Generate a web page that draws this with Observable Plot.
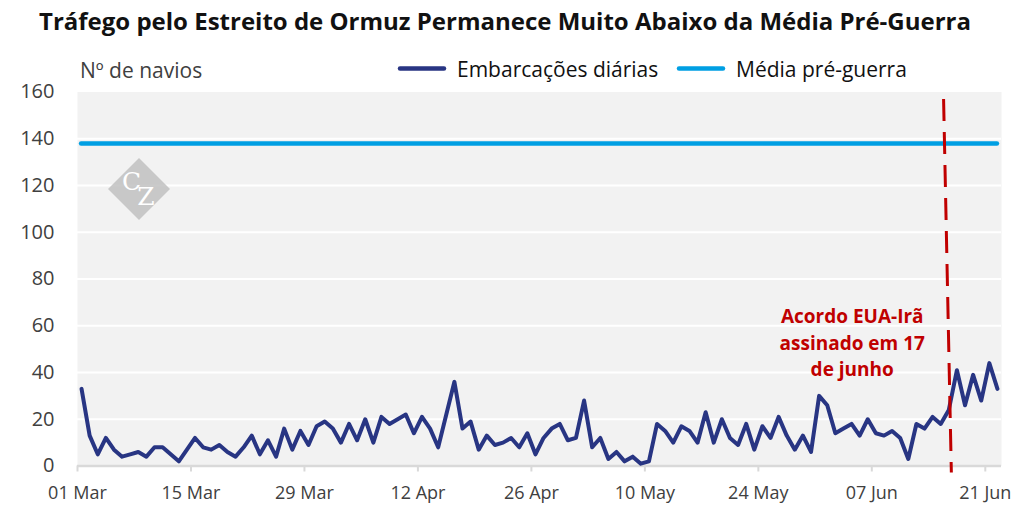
<!DOCTYPE html>
<html><head><meta charset="utf-8">
<script src="https://cdn.jsdelivr.net/npm/d3@7"></script>
<script src="https://cdn.jsdelivr.net/npm/@observablehq/plot@0.6"></script>
<style>
body{margin:0;background:#fff;font-family:"Open Sans",sans-serif;}
#wrap{position:relative;width:1036px;height:531px;overflow:hidden;background:#fff;}
#header{display:block;overflow:visible;}
#chart svg{display:block;}
#wm{position:absolute;left:0;top:0;pointer-events:none;}
</style></head><body>
<div id="wrap">
<svg id="header" width="1036" height="85"></svg>
<div id="chart"></div>
<svg id="wm" width="1036" height="531"></svg>
</div>
<script>
// ---- data ----
const startDate = "2026-03-01";
const dailyShips = [
  33,13,5,12,7,4,5,6,4,8,8,5,2,7,12,8,7,9,6,4,8,13,5,11,4,16,7,15,
  9,17,19,16,10,18,11,20,10,21,18,20,22,14,21,16,8,22,36,16,19,7,13,9,10,12,8,14,
  5,12,16,18,11,12,28,8,12,3,6,2,4,1,2,18,15,10,17,15,10,23,10,20,12,9,18,7,
  17,12,21,13,7,13,6,30,26,14,16,18,13,20,14,13,15,12,3,18,16,21,18,24,41,26,39,28,44,33
];
const preWarAverage = 138;
const seriesNames = ["Embarcações diárias", "Média pré-guerra"];
const seriesColors = ["#283583", "#009fe3"];
const xTickDates = ["2026-03-01","2026-03-15","2026-03-29","2026-04-12","2026-04-26","2026-05-10","2026-05-24","2026-06-07","2026-06-21"];
const xTickLabels = ["01 Mar","15 Mar","29 Mar","12 Apr","26 Apr","10 May","24 May","07 Jun","21 Jun"];
const xDomain = ["2026-03-01","2026-06-23"];
const yTicks = [0,20,40,60,80,100,120,140,160];
const yGrid = [20,40,60,80,100,120,140];
const agreementLineX = ["2026-06-15T20:30Z","2026-06-16T19:30Z"];
const agreementLineY = [157, -2.8];
const annotationText = "Acordo EUA-Irã\nassinado em 17\nde junho";
const annotationX = "2026-06-04T14:00Z";
const annotationY = 53.4;
const titleText = "Tráfego pelo Estreito de Ormuz Permanece Muito Abaixo da Média Pré-Guerra";
const yLabel = "Nº de navios";

// ---- build ----
const start = new Date(startDate + "T00:00Z");
const rows = dailyShips.map((v, i) => ({date: d3.utcHour.offset(d3.utcDay.offset(start, i), 12), value: v}));
const tickDates = xTickDates.map(d => new Date(d + "T00:00Z"));

const font = "'Open Sans', sans-serif";
const headerH = 85;

// header (title + y label + legend)
const H = d3.select("#header");
H.append("text").attr("x", 39).attr("y", 30).attr("font-family", font).attr("font-weight", 700)
  .attr("font-size", 24).attr("fill", "#111").text(titleText);
H.append("text").attr("x", 80).attr("y", 77.5).attr("font-family", font)
  .attr("font-size", 21).attr("fill", "#404040").text(yLabel);
const legendX = [400, 679];
seriesNames.forEach((name, i) => {
  H.append("line").attr("x1", legendX[i]).attr("x2", legendX[i] + 44).attr("y1", 68.5).attr("y2", 68.5)
    .attr("stroke", seriesColors[i]).attr("stroke-width", 4.5).attr("stroke-linecap", "round");
  H.append("text").attr("x", legendX[i] + 57).attr("y", 77).attr("font-family", font)
    .attr("font-size", 21).attr("fill", "#111").text(name);
});

const chart = Plot.plot({
  width: 1036,
  height: 531 - headerH,
  marginTop: 91.5 - headerH,
  marginBottom: 65.5,
  marginLeft: 77,
  marginRight: 35,
  style: {fontFamily: font, background: "transparent", overflow: "visible"},
  x: {type: "utc", domain: xDomain.map(d => new Date(d + "T00:00Z"))},
  y: {domain: [0, 160]},
  marks: [
    Plot.frame({fill: "#f2f2f2", stroke: null}),
    Plot.ruleY(yGrid, {stroke: "#ffffff", strokeWidth: 2.2}),
    Plot.ruleY([0], {stroke: "#d9d9d9", strokeWidth: 2.5}),
    Plot.axisX({ticks: tickDates, tickFormat: (d, i) => xTickLabels[i], tickSize: 6, tickPadding: 14,
      fontSize: 18, stroke: "#d9d9d9", strokeWidth: 2, fill: "#404040", label: null}),
    Plot.axisY({ticks: yTicks, tickSize: 0, tickPadding: 23, fontSize: 20, fill: "#404040", label: null}),
    Plot.ruleY([preWarAverage], {x1: rows[0].date, x2: rows[rows.length - 1].date,
      stroke: seriesColors[1], strokeWidth: 4.5, strokeLinecap: "round"}),
    Plot.lineY(rows, {x: "date", y: "value", stroke: seriesColors[0], strokeWidth: 4,
      strokeLinejoin: "round", strokeLinecap: "round"}),
    Plot.link([0], {x1: () => new Date(agreementLineX[0]), x2: () => new Date(agreementLineX[1]),
      y1: () => agreementLineY[0], y2: () => agreementLineY[1],
      stroke: "#c00000", strokeWidth: 3, strokeDasharray: "22,11"}),
    Plot.text([annotationText], {x: () => new Date(annotationX), y: () => annotationY, text: d => d,
      fill: "#c00000", fontWeight: 700, fontSize: 19, lineHeight: 1.37, textAnchor: "middle"})
  ]
});
document.getElementById("chart").appendChild(chart);

// watermark (decorative logo)
const W = d3.select("#wm");
W.append("polygon").attr("points", "139,158 170,189 139,220 108,189").attr("fill", "#bdbdbd").attr("opacity", 0.8);
const logo = W.append("text").attr("x", 122).attr("y", 190).attr("font-family", "'DejaVu Serif', serif")
  .attr("font-size", 25).attr("fill", "#fff");
logo.append("tspan").text("C");
logo.append("tspan").attr("dx", -4).attr("dy", 15).text("Z");
</script>
</body></html>
